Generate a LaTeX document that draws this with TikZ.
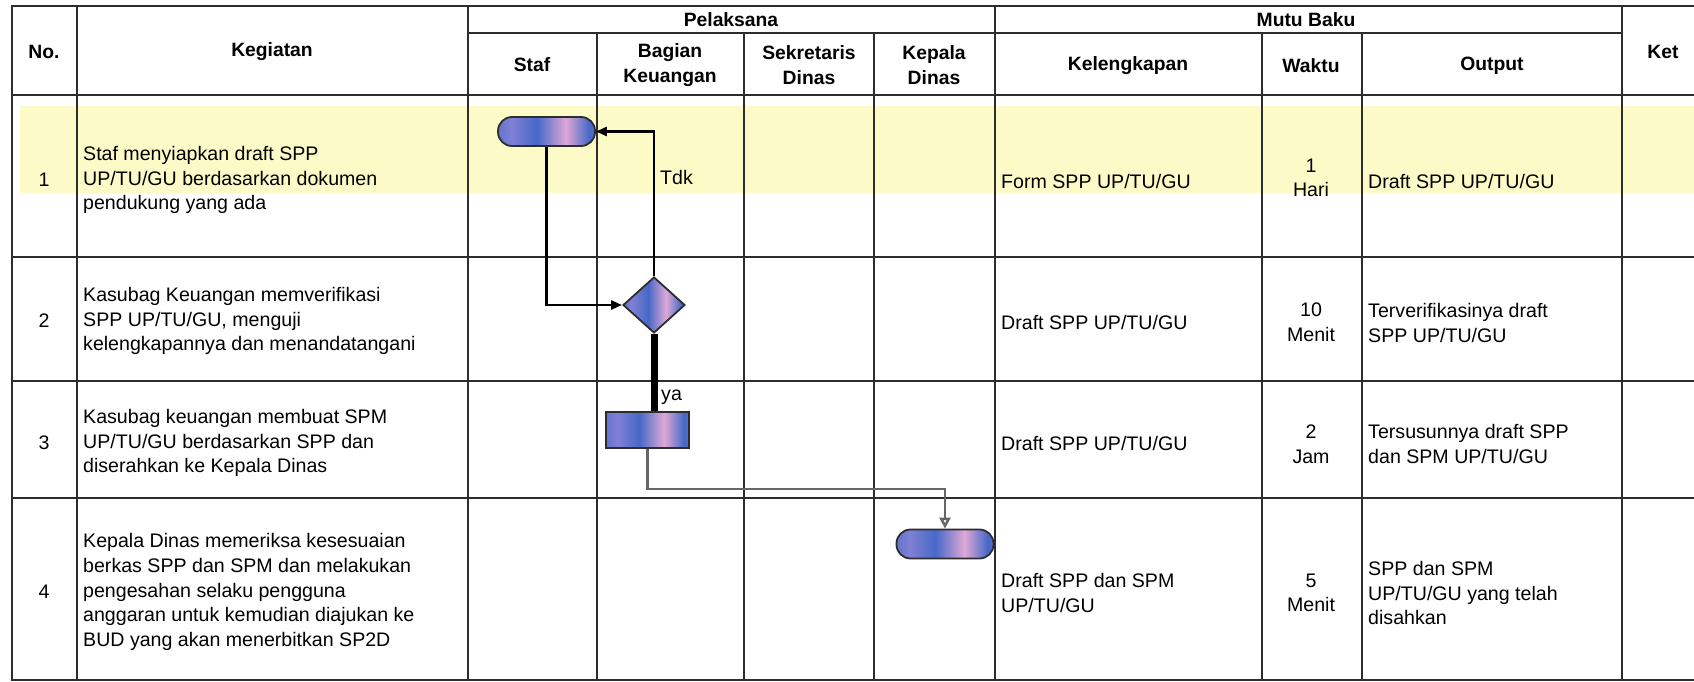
\documentclass[tikz,border=0pt]{standalone}
\usepackage{fontspec}
\setmainfont{Liberation Sans}
\usetikzlibrary{shapes.geometric,arrows.meta}
\definecolor{gridgray}{RGB}{45,45,45}
\definecolor{markyellow}{RGB}{252,250,198}
\definecolor{stripeblue}{RGB}{70,104,200}
\definecolor{stripepink}{RGB}{222,168,214}
\definecolor{stripemid}{RGB}{128,128,212}
\pgfdeclarehorizontalshading{stripes}{100bp}{color(0bp)=(stripepink); color(18bp)=(stripeblue); color(32bp)=(stripemid); color(45bp)=(stripeblue); color(60bp)=(stripepink); color(72bp)=(stripeblue); color(86bp)=(stripemid); color(100bp)=(stripepink)}

\tikzset{
  gridline/.style={draw=gridgray, line width=2.2pt, line cap=rect},
  celltext/.style={inner sep=0pt, align=left, anchor=west, font=\fontsize{19.6}{24.6}\selectfont},
  midtext/.style={inner sep=0pt, align=center, font=\fontsize{19.6}{24.6}\selectfont},
  headtext/.style={inner sep=0pt, align=center, font=\fontsize{19.3}{25}\selectfont\bfseries},
  terminal/.style={draw=gridgray, line width=1.8pt, rectangle, rounded corners=14pt, minimum width=97pt, minimum height=29pt, inner sep=0pt, shade, shading=stripes},
  decision/.style={draw=gridgray, line width=1.8pt, diamond, minimum width=62pt, minimum height=56pt, inner sep=0pt, shade, shading=stripes},
  process/.style={draw=gridgray, line width=1.8pt, rectangle, minimum width=83pt, minimum height=36pt, inner sep=0pt, shade, shading=stripes},
  flow/.style={draw=black, line width=2.5pt, -{Triangle[length=11pt,width=9pt]}},
  graylink/.style={draw=black!60, line width=2.5pt, -{Triangle[open,length=11pt,width=11pt,fill=white]}}
}

\begin{document}
\begin{tikzpicture}[x=1pt, y=-1pt]
  \useasboundingbox (0,0) rectangle (1694,682);
  \fill[white] (0,0) rectangle (1694,682);
  \fill[markyellow] (20,106) rectangle (1694,193);

  % table lines
  \foreach \y in {6,95,257,381,498,680}
    \draw[gridline] (12,\y) -- (1694,\y);
  \draw[gridline] (468,33) -- (1622,33);
  \foreach \x in {12,77,468,995,1622}
    \draw[gridline] (\x,6) -- (\x,680);
  \foreach \x in {597,744,874,1262,1362}
    \draw[gridline] (\x,33) -- (\x,680);

  % header
  \node[headtext] (hno) at (44,52) {No.};
  \node[headtext] (hkeg) at (272,52) {Kegiatan};
  \node[headtext] (hpel) at (731,20) {Pelaksana};
  \node[headtext] (hstaf) at (532,65) {Staf};
  \node[headtext] (hbag) at (670,65) {Bagian\\Keuangan};
  \node[headtext] (hsek) at (809,65) {Sekretaris\\Dinas};
  \node[headtext] (hkep) at (934,65) {Kepala\\Dinas};
  \node[headtext] (hmutu) at (1306,20) {Mutu Baku};
  \node[headtext] (hkel) at (1128,66) {Kelengkapan};
  \node[headtext] (hwkt) at (1311,66) {Waktu};
  \node[headtext] (hout) at (1492,66) {Output};
  \node[headtext] (hket) at (1663,52) {Ket};

  % row 1
  \node[midtext] (no1) at (44,180) {1};
  \node[celltext] (keg1) at (83,180) {Staf menyiapkan draft SPP\\UP/TU/GU berdasarkan dokumen\\pendukung yang ada};
  \node[celltext] (kel1) at (1001,181) {Form SPP UP/TU/GU};
  \node[midtext] (wkt1) at (1311,178) {1\\Hari};
  \node[celltext] (out1) at (1368,181) {Draft SPP UP/TU/GU};

  % row 2
  \node[midtext] (no2) at (44,321) {2};
  \node[celltext] (keg2) at (83,321) {Kasubag Keuangan memverifikasi\\SPP UP/TU/GU, menguji\\kelengkapannya dan menandatangani};
  \node[celltext] (kel2) at (1001,322) {Draft SPP UP/TU/GU};
  \node[midtext] (wkt2) at (1311,322) {10\\Menit};
  \node[celltext] (out2) at (1368,323) {Terverifikasinya draft\\SPP UP/TU/GU};

  % row 3
  \node[midtext] (no3) at (44,443) {3};
  \node[celltext] (keg3) at (83,443) {Kasubag keuangan membuat SPM\\UP/TU/GU berdasarkan SPP dan\\diserahkan ke Kepala Dinas};
  \node[celltext] (kel3) at (1001,443) {Draft SPP UP/TU/GU};
  \node[midtext] (wkt3) at (1311,444) {2\\Jam};
  \node[celltext] (out3) at (1368,444) {Tersusunnya draft SPP\\dan SPM UP/TU/GU};

  % row 4
  \node[midtext] (no4) at (44,592) {4};
  \node[celltext] (keg4) at (83,592) {Kepala Dinas memeriksa kesesuaian\\berkas SPP dan SPM dan melakukan\\pengesahan selaku pengguna\\anggaran untuk kemudian diajukan ke\\BUD yang akan menerbitkan SP2D};
  \node[celltext] (kel4) at (1001,593) {Draft SPP dan SPM\\UP/TU/GU};
  \node[midtext] (wkt4) at (1311,593) {5\\Menit};
  \node[celltext] (out4) at (1368,593) {SPP dan SPM\\UP/TU/GU yang telah\\disahkan};

  % flow
  \node[terminal] (start) at (546.5,131.5) {};
  \node[decision] (verif) at (654,305) {};
  \node[process] (spm) at (647.5,430) {};
  \node[terminal] (finish) at (945,544) {};
  \coordinate (turn) at (648,489);

  \draw[flow] (start.south) |- (verif.west);
  \draw[flow] (verif.north) |- (start.east);
  \draw[draw=black, line width=7pt] (verif.south) -- (verif.south |- spm.north);
  \draw[graylink] (spm.south) -- (spm.south |- turn) -| (finish.north);

  \node[celltext] (tdk) at (660,177) {Tdk};
  \node[celltext] (ya) at (661,397) {ya};
\end{tikzpicture}
\end{document}
